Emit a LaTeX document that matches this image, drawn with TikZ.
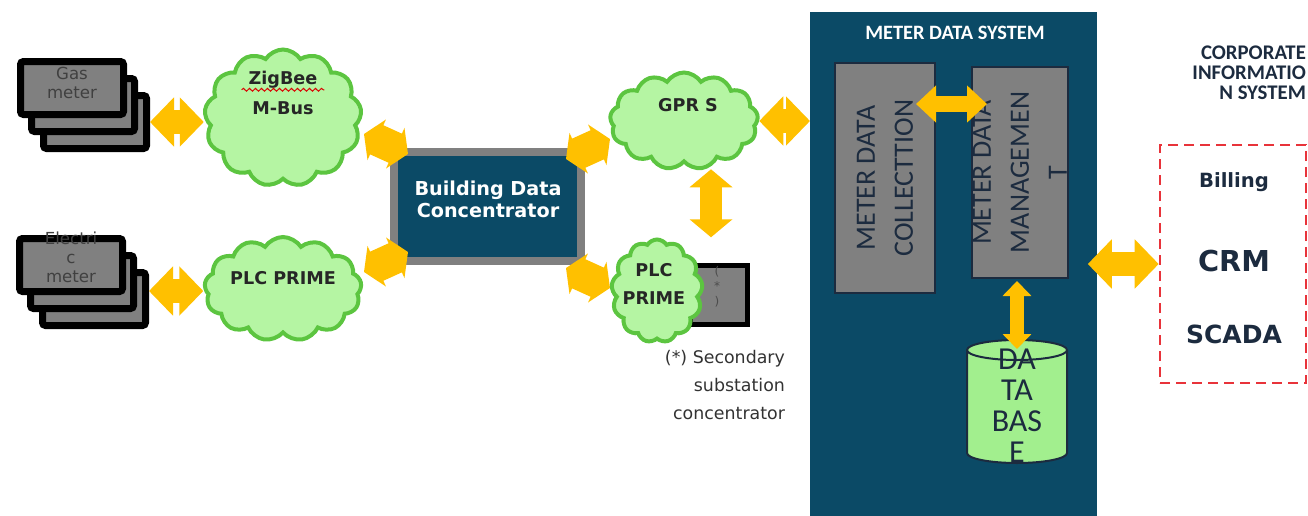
\documentclass[tikz,border=0pt]{standalone}
\usepackage{fontspec}
\setmainfont{DejaVu Sans}
\newfontfamily\calibri{Carlito}
\usetikzlibrary{shapes.symbols,shapes.geometric,arrows.meta,calc,decorations.pathmorphing}
\definecolor{petrol}{HTML}{0B4A66}
\definecolor{boxgray}{HTML}{808080}
\definecolor{arrowc}{HTML}{FFC000}
\definecolor{cloudfill}{HTML}{B5F5A3}
\definecolor{cloudline}{HTML}{5CC540}
\definecolor{dbfill}{HTML}{A2EF8E}
\definecolor{inkblue}{HTML}{1C2B3F}
\definecolor{dashred}{HTML}{E8333A}
\begin{document}
\begin{tikzpicture}[x=0.5pt, y=-0.5pt,
        meterbox/.style={draw=black, line width=3.5pt, fill=boxgray, rounded corners=1.5pt, minimum width=51.5pt, minimum height=26.5pt, inner sep=0pt},
        cloudy/.style={cloud, cloud puffs=13, cloud puff arc=115, cloud ignores aspect, draw=cloudline, fill=cloudfill, line width=2pt, inner sep=0pt},
        panel/.style={draw=inkblue, line width=1pt, fill=boxgray, inner sep=0pt},
        lbl/.style={font=\fontsize{8.3}{9.5}\selectfont, text=black!75, align=center},
        ctext/.style={font=\bfseries\fontsize{8.8}{14}\selectfont, text=black!85, align=center},
        vtext/.style={font=\calibri\fontsize{14}{19}\selectfont, text=inkblue, align=center, rotate=90},
        fat/.style={arrowc, line width=12pt, >={Triangle[length=12pt,width=24pt]}, <->},
        stub/.style={arrowc, line width=16pt, >={Triangle[length=7pt,width=22pt]}, <->},
        slim/.style={arrowc, line width=11pt, >={Triangle[length=9pt,width=21pt]}, <->},
        mid/.style={arrowc, line width=8pt, >={Triangle[length=10pt,width=18pt]}, <->},
        narrow/.style={arrowc, line width=7pt, >={Triangle[length=7.5pt,width=14pt]}, <->}]
        \useasboundingbox (0,0) rectangle (1308,515);
        \foreach \n/\dx/\dy in {3/23/34, 2/11/17, 1/0/0} {
            \node[meterbox] (gas\n) at (72+\dx, 88+\dy) {};
            \node[meterbox] (elec\n) at (71+\dx, 265+\dy) {};
        }
        \node[lbl] (gastxt) at (72,83) {Gas\\meter};
        \node[lbl] (electxt) at (71,257) {Electri\\c\\meter};
        \node[cloudy, minimum width=78.5pt, minimum height=68.5pt] (zig) at (283,118) {};
        \node[cloudy, minimum width=78.5pt, minimum height=52pt] (plc) at (283,289) {};
        \node[cloudy, minimum width=74pt, minimum height=48.5pt] (gprs) at (684,121) {};
        \node[draw=black, line width=2.5pt, fill=boxgray, minimum width=28.5pt, minimum height=29.5pt, inner sep=0pt] (ssc) at (719,295) {};
        \node[font=\fontsize{6}{7.5}\selectfont, text=black!70, align=center] (ssctxt) at (717,287) {(\\*\\)};
        \node[cloudy, minimum width=45.5pt, minimum height=51.5pt] (plc2) at (657,291) {};
        \node[draw=boxgray, line width=4pt, fill=petrol, minimum width=93.5pt, minimum height=54.5pt, inner sep=0pt] (bdc) at (487.5,206.5) {};
        \node[font=\bfseries\fontsize{9.6}{11}\selectfont, text=white, align=center] (bdctxt) at (488,199) {Building Data\\Concentrator};
        \node[ctext] (zigw) at (283,80) {ZigBee};
        \draw[red!85!black, line width=0.5pt, decorate, decoration={snake, amplitude=0.7pt, segment length=3pt}] ([yshift=-2.5pt]zigw.base west) -- ([yshift=-2.5pt]zigw.base east);
        \node[ctext] (mbus) at (283,108) {M-Bus};
        \node[ctext] (plctxt) at (283,278) {PLC PRIME};
        \node[ctext] (gprstxt) at (688,105) {GPR S};
        \node[ctext] (plc2txt) at (654,284) {PLC\\PRIME};
        \node[font=\fontsize{8.7}{14}\selectfont, text=black!80, align=right, anchor=north east] (capt) at (792,343) {(*) Secondary\\substation\\concentrator};
        \node[fill=petrol, minimum width=143.5pt, minimum height=260pt, inner sep=0pt, anchor=north west] (mds) at (810,12) {};
        \node[font=\calibri\bfseries\fontsize{10.2}{12}\selectfont, text=white] (mdstitle) at (955,33) {METER DATA SYSTEM};
        \node[panel, minimum width=50pt, minimum height=115pt] (mdc) at (885,178) {};
        \node[vtext] (mdctxt) at (mdc.center) {METER DATA\\COLLECTTION};
        \node[panel, minimum width=48pt, minimum height=105.5pt, path picture={
            \node[vtext] at (path picture bounding box.center) {METER DATA\\MANAGEMEN\\T};}] (mdm) at (1020,172.5) {};
        \node[cylinder, shape border rotate=90, aspect=0.2, draw=inkblue, fill=dbfill, line width=1pt, minimum width=50pt, minimum height=61.5pt, inner xsep=25pt, inner ysep=0pt] (db) at (1017,412) {};
        \node[font=\calibri\fontsize{16}{15.5}\selectfont, text=inkblue, align=center] (dbtxt) at (1017,406) {DA\\TA\\BAS\\E};
        \node[font=\calibri\bfseries\fontsize{10.4}{10}\selectfont, text=inkblue, align=right, anchor=east] (corptitle) at (1313,73) {CORPORATE\\INFORMATIO\\N SYSTEM};
        \node[draw=dashred, dash pattern=on 5pt off 3pt, line width=1.3pt, minimum width=73pt, minimum height=119pt, inner sep=0pt] (corp) at (1233,264) {};
        \node[font=\bfseries\fontsize{9.8}{12}\selectfont, text=inkblue] (billing) at (1234,182) {Billing};
        \node[font=\bfseries\fontsize{14.4}{16}\selectfont, text=inkblue] (crm) at (1234,261) {CRM};
        \node[font=\bfseries\fontsize{12.5}{14}\selectfont, text=inkblue] (scada) at (1234,334) {SCADA};
        \draw[fat] (gas3.east) -- (gas3.east -| zig.west);
        \draw[fat] ([yshift=4pt]elec3.east) -- ([yshift=4pt]elec3.east -| plc.west);
        \draw[stub] ($(bdc.north west)+(-26,-14)$) -- ($(bdc.north west)+(18,6)$);
        \draw[stub] ($(bdc.south west)+(-26,7)$) -- ($(bdc.south west)+(18,-13)$);
        \draw[stub] ($(bdc.north east)+(-19,11)$) -- ($(bdc.north east)+(25,-9)$);
        \draw[stub] ($(bdc.south east)+(-19,3)$) -- ($(bdc.south east)+(25,23)$);
        \draw[slim] ($(gprs.south)+(27,5)$) -- ($(gprs.south)+(27,73)$);
        \draw[fat] (gprs.east) -- (gprs.east -| mds.west);
        \draw[mid] ($(mdc.east)+(-20,-74)$) -- ($(mdm.west)+(16,-68.5)$);
        \draw[narrow] ($(mdm.south)+(-3,2)$) -- ($(mdm.south |- db.north)+(-3,10)$);
        \draw[fat] ($(corp.west -| mds.east)+(-10,0)$) -- (corp.west);
    \end{tikzpicture}
\end{document}
